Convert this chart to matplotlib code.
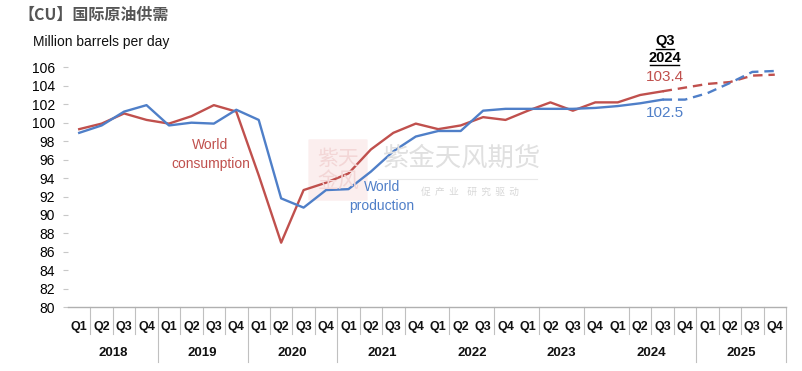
import matplotlib.pyplot as plt
from matplotlib.patches import FancyBboxPatch

# quarterly data, Q1 2018 .. Q4 2025 (million barrels per day)
years = ['2018', '2019', '2020', '2021', '2022', '2023', '2024', '2025']
quarters = ['Q1', 'Q2', 'Q3', 'Q4']
consumption = [99.3, 99.9, 101.0, 100.3,
               99.9, 100.7, 101.9, 101.2,
               94.3, 87.0, 92.7, 93.5,
               94.5, 97.1, 98.9, 99.9,
               99.3, 99.7, 100.6, 100.3,
               101.3, 102.2, 101.3, 102.2,
               102.2, 103.0, 103.4, 103.8,
               104.2, 104.4, 105.1, 105.2]
production = [98.9, 99.7, 101.2, 101.9,
              99.7, 100.0, 99.9, 101.4,
              100.3, 91.8, 90.8, 92.7,
              92.8, 94.7, 96.9, 98.5,
              99.1, 99.1, 101.3, 101.5,
              101.5, 101.5, 101.5, 101.6,
              101.8, 102.1, 102.5, 102.5,
              103.2, 104.3, 105.5, 105.6]
forecast_start = 26  # Q3 2024, last actual point
yticks = list(range(80, 107, 2))

red = '#C0504D'
blue = '#4F7FC8'
narrow = ['Liberation Sans Narrow', 'Liberation Sans', 'DejaVu Sans']
cjk = ['Noto Sans CJK SC', 'DejaVu Sans']

W, H = 802, 371
fig = plt.figure(figsize=(W / 100, H / 100), dpi=100)
fig.patch.set_facecolor('white')

left, right, top, bottom = 68, 786, 67.3, 307.3
ax = fig.add_axes([left / W, 1 - bottom / H, (right - left) / W, (bottom - top) / H])
ax.set_facecolor('none')

n = len(consumption)
x = list(range(n))
fs = forecast_start

ax.plot(x[:fs + 1], consumption[:fs + 1], color=red, lw=1.7)
ax.plot(x[fs:], consumption[fs:], color=red, lw=1.7, ls=(0, (4, 2.5)))
ax.plot(x[:fs + 1], production[:fs + 1], color=blue, lw=1.7)
ax.plot(x[fs:], production[fs:], color=blue, lw=1.7, ls=(0, (4, 2.5)))

ax.set_xlim(-0.5, n - 0.5)
ax.set_ylim(80, 106)
ax.set_yticks(yticks)
ax.set_yticklabels([str(v) for v in yticks], family=narrow, fontsize=10)
ax.tick_params(axis='y', length=3.5, width=0.8, color='#c8c8c8', pad=6)
ax.set_xticks([])
for s in ['top', 'right', 'left']:
    ax.spines[s].set_visible(False)
ax.spines['bottom'].set_color('#b0b0b0')
ax.spines['bottom'].set_linewidth(1)

# category axis: quarter and year labels with separators
xt = ax.get_xaxis_transform()
for i in range(n):
    ax.text(i, -0.081, quarters[i % 4], transform=xt, ha='center', va='center',
            family=narrow, fontsize=9, fontweight='bold', color='#111111')
for j, yr in enumerate(years):
    ax.text(j * 4 + 1.5, -0.19, yr, transform=xt, ha='center', va='center',
            family=narrow, fontsize=9.5, fontweight='bold', color='#111111')
short_seps = list(range(1, 16)) + [17, 19, 21, 23] + list(range(25, 32))
long_seps = [4, 8, 12, 28, 32]
for k in short_seps:
    if k not in long_seps:
        ax.plot([k - 0.5, k - 0.5], [0, -0.111], transform=xt, color='#c0c0c0',
                lw=0.8, clip_on=False)
for k in long_seps:
    ax.plot([k - 0.5, k - 0.5], [0, -0.228], transform=xt, color='#c0c0c0',
            lw=0.8, clip_on=False)

# watermark
fig.text(462 / W, 1 - 158 / H, '紫金天风期货', family=cjk, fontsize=19,
         color='#e0e0e0', ha='center', va='center', zorder=0)
fig.add_artist(plt.Line2D([378 / W, 537 / W], [1 - 179 / H, 1 - 179 / H],
                          color='#e8e8e8', lw=0.8, zorder=0))
fig.text(470 / W, 1 - 192 / H, '促  产  业    研  究  驱  动', family=cjk,
         fontsize=7, color='#d8d8d8', ha='center', va='center', zorder=0)
seal = FancyBboxPatch((310 / W, 1 - 200 / H), 56 / W, 60 / H,
                      boxstyle='round,pad=0.002', transform=fig.transFigure,
                      facecolor='#fbeeee', edgecolor='none', zorder=0)
fig.add_artist(seal)
fig.text(338 / W, 1 - 170 / H, '紫天\n金风', family=cjk, fontsize=15,
         color='#f3d6d6', ha='center', va='center', linespacing=1.0, zorder=0)

# annotations
ax.text(5.85, 96.6, 'World\nconsumption', color=red, fontsize=10, family=narrow,
        ha='center', va='center', linespacing=1.45)
ax.text(13.5, 92.0, 'World\nproduction', color=blue, fontsize=10, family=narrow,
        ha='center', va='center', linespacing=1.45)
ax.text(26.1, 108.8, 'Q3', fontsize=10.5, fontweight='bold', family=narrow,
        ha='center', va='center', clip_on=False)
ax.text(26.1, 107.05, '2024', fontsize=10.5, fontweight='bold', family=narrow,
        ha='center', va='center', clip_on=False)
for yy, x0, x1 in [(108.0, 25.7, 26.5), (106.25, 25.45, 26.75)]:
    ax.plot([x0, x1], [yy, yy], color='black', lw=1, clip_on=False)
ax.text(26.1, 104.9, '103.4', color=red, fontsize=11, family=narrow,
        ha='center', va='center', clip_on=False)
ax.text(26.1, 101.0, '102.5', color=blue, fontsize=11, family=narrow,
        ha='center', va='center')

fig.text(33 / W, 1 - 42 / H, 'Million barrels per day', family=narrow, fontsize=10,
         color='#111111', ha='left', va='center')
fig.text(18 / W, 1 - 15 / H, '【CU】国际原油供需', family=cjk, fontsize=11.5,
         fontweight='bold', color='#555555', ha='left', va='center')

fig.savefig('out.png', dpi=100)
